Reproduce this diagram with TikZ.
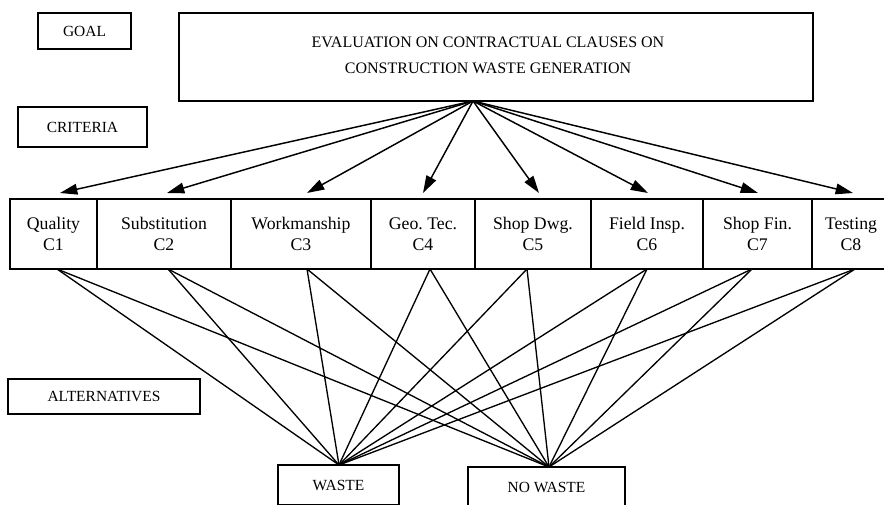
\documentclass[tikz,border=0pt]{standalone}
\usepackage{fontspec}
\setmainfont{Liberation Serif}
\frenchspacing
\usetikzlibrary{arrows.meta}
\begin{document}
\begin{tikzpicture}[x=0.75pt,y=-0.75pt,
  box/.style={draw,line width=1.2pt,inner sep=0pt,outer sep=0pt},
  lbl/.style={box,font=\fontsize{11.6}{14}\selectfont},
  cell/.style={box,minimum height=52.5pt,align=center,font=\fontsize{13.3}{15.75}\selectfont},
  arr/.style={line width=1.1pt,-{Triangle[length=13pt,width=8pt]}},
  link/.style={line width=1pt}]
\useasboundingbox (0,0) rectangle (884,504);
\clip (0,0) rectangle (884,504);
% side labels
\node[lbl,minimum width=69.75pt,minimum height=27pt] (goallbl) at (84.5,31) {GOAL};
\node[lbl,minimum width=96.75pt,minimum height=30pt] (critlbl) at (82.5,127) {CRITERIA};
\node[lbl,minimum width=144pt,minimum height=26.25pt] (altlbl) at (104,396.5) {ALTERNATIVES};
% goal
\node[box,minimum width=475.5pt,minimum height=66pt] (goal) at (496,57) {};
\node[align=center,inner sep=0pt,font=\fontsize{12}{19.5}\selectfont] (goaltext) at (488,55)
  {EVALUATION ON CONTRACTUAL CLAUSES ON\\CONSTRUCTION WASTE GENERATION};
\coordinate (apex) at (473,101);
% criteria
\node[cell,minimum width=65.25pt] (c1) at (53.5,234) {Quality\\C1};
\node[cell,minimum width=100.5pt] (c2) at (164,234) {Substitution\\C2};
\node[cell,minimum width=105pt] (c3) at (301,234) {Workmanship\\C3};
\node[cell,minimum width=78pt] (c4) at (423,234) {Geo. Tec.\\C4};
\node[cell,minimum width=87pt] (c5) at (533,234) {Shop Dwg.\\C5};
\node[cell,minimum width=84pt] (c6) at (647,234) {Field Insp.\\C6};
\node[cell,minimum width=81.75pt] (c7) at (757.5,234) {Shop Fin.\\C7};
\node[cell,minimum width=58.5pt] (c8) at (851,234) {Testing\\C8};
% arrow tips
\coordinate (t1) at (60,193);
\coordinate (t2) at (167,193);
\coordinate (t3) at (307,193);
\coordinate (t4) at (423,193);
\coordinate (t5) at (539,193);
\coordinate (t6) at (648,193);
\coordinate (t7) at (758,193);
\coordinate (t8) at (853,193);
\foreach \i in {1,...,8} \draw[arr] (apex) -- (t\i);
% alternatives
\node[lbl,minimum width=90.75pt,minimum height=30pt] (waste) at (338.5,485) {WASTE};
\node[lbl,minimum width=117.75pt,minimum height=30pt] (nowaste) at (546.5,487) {NO WASTE};
\coordinate (wa) at (339,465);
\coordinate (na) at (549,467);
% bottom link points
\coordinate (b1) at (57,269);
\coordinate (b2) at (168,269);
\coordinate (b3) at (307,269);
\coordinate (b4) at (430,269);
\coordinate (b5) at (527,269);
\coordinate (b6) at (647,269);
\coordinate (b7) at (752,269);
\coordinate (b8) at (855,269);
\foreach \i in {1,...,8} {
  \draw[link] (b\i) -- (wa);
  \draw[link] (b\i) -- (na);
}
\end{tikzpicture}
\end{document}
